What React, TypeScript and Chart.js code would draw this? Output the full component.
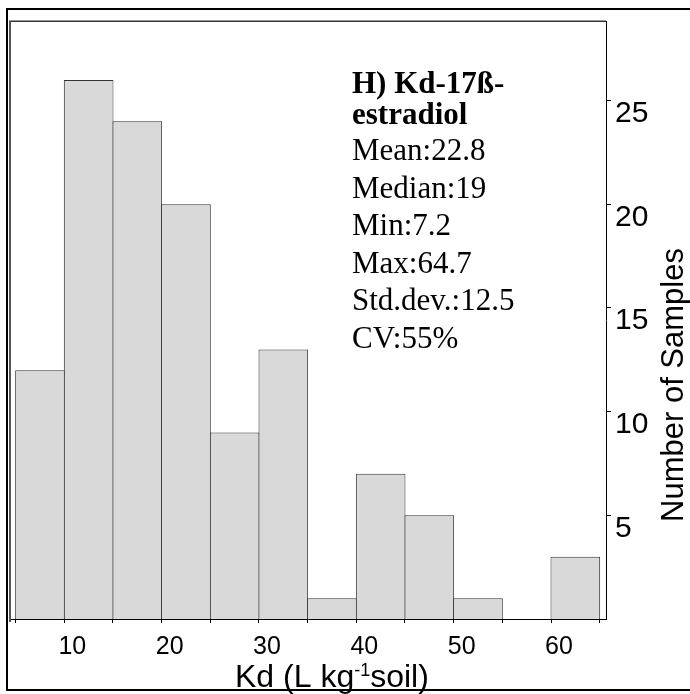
import React, { useEffect, useRef } from 'react';
import { Chart, registerables } from 'chart.js';

Chart.register(...registerables);

// ---- data ----
const binStarts = [5, 10, 15, 20, 25, 30, 35, 40, 45, 50, 55, 60];
const binWidth = 5;
const counts = [12, 26, 24, 20, 9, 13, 1, 7, 5, 1, 0, 3];
const xTickValues = [5, 10, 15, 20, 25, 30, 35, 40, 45, 50, 55, 60, 65];
const xLabelValues = [10, 20, 30, 40, 50, 60];
const yTickValues = [5, 10, 15, 20, 25];
const titleLines = ['H) Kd-17ß-', 'estradiol'];
const statLines = ['Mean:22.8', 'Median:19', 'Min:7.2', 'Max:64.7', 'Std.dev.:12.5', 'CV:55%'];
const xTitleParts = ['Kd (L kg', '-1', 'soil)'];
const yTitle = 'Number of Samples';

const SANS = "'Liberation Sans', Arial, sans-serif";
const SERIF = "'Liberation Serif', 'Times New Roman', serif";

const decorPlugin = {
  id: 'decor',
  afterDraw(chart: any) {
    const ctx = chart.ctx as CanvasRenderingContext2D;
    const { left, top, right, bottom } = chart.chartArea;
    ctx.save();
    // inner frame (top + left)
    ctx.strokeStyle = '#333';
    ctx.lineWidth = 1.5;
    ctx.beginPath();
    ctx.moveTo(left - 1, top + 0.3);
    ctx.lineTo(right, top + 0.3);
    ctx.stroke();
    ctx.strokeStyle = '#555';
    ctx.lineWidth = 2;
    ctx.beginPath();
    ctx.moveTo(left, top);
    ctx.lineTo(left, bottom + 3);
    ctx.stroke();
    // outer frame
    ctx.strokeStyle = '#000';
    ctx.lineWidth = 2;
    ctx.strokeRect(7, 9, 700, 681);

    // stats text
    ctx.fillStyle = '#000';
    ctx.textAlign = 'left';
    ctx.textBaseline = 'alphabetic';
    ctx.font = `bold 31px ${SERIF}`;
    const titleBase = [93, 124];
    titleLines.forEach((t, i) => ctx.fillText(t, 352, titleBase[i]));
    ctx.font = `31px ${SERIF}`;
    statLines.forEach((t, i) => ctx.fillText(t, 352, 160 + i * 37.6));

    // y title
    ctx.save();
    ctx.translate(674, 385);
    ctx.rotate(-Math.PI / 2);
    ctx.font = `31px ${SANS}`;
    ctx.textAlign = 'center';
    ctx.textBaseline = 'middle';
    ctx.fillText(yTitle, 0, 0);
    ctx.restore();

    // x title with superscript
    let x = 235;
    const base = 687;
    ctx.textAlign = 'left';
    ctx.textBaseline = 'alphabetic';
    ctx.font = `32px ${SANS}`;
    ctx.fillText(xTitleParts[0], x, base);
    x += ctx.measureText(xTitleParts[0]).width;
    ctx.font = `18px ${SANS}`;
    ctx.fillText(xTitleParts[1], x, base - 11);
    x += ctx.measureText(xTitleParts[1]).width;
    ctx.font = `32px ${SANS}`;
    ctx.fillText(xTitleParts[2], x, base);
    ctx.restore();
  },
};

export default function App() {
  const ref = useRef<HTMLCanvasElement>(null);
  useEffect(() => {
    if (!ref.current) return;
    const data = binStarts.map((s, i) => ({ x: s + binWidth / 2, y: counts[i] }));
    const chart = new Chart(ref.current, {
      type: 'bar',
      data: {
        datasets: [
          {
            data: data as any,
            backgroundColor: '#d9d9d9',
            borderColor: '#333',
            borderWidth: 1,
            borderSkipped: 'start',
            barPercentage: 1.02,
            categoryPercentage: 1,
          },
        ],
      },
      options: {
        animation: false,
        responsive: false,
        devicePixelRatio: 1,
        layout: { padding: { left: 10, top: 21, right: 0, bottom: 0 } },
        plugins: { legend: { display: false }, tooltip: { enabled: false } },
        scales: {
          x: {
            type: 'linear',
            offset: false,
            min: 4.42,
            max: 65.65,
            afterBuildTicks: (s: any) => {
              s.ticks = xTickValues.map((v) => ({ value: v }));
            },
            afterFit: (s: any) => {
              s.height = 75;
              s.paddingLeft = 0;
              s.paddingRight = 0;
            },
            grid: { display: true, offset: false, drawOnChartArea: false, drawTicks: true, tickLength: 4, color: '#000', lineWidth: 1 },
            border: { display: true, color: '#000', width: 1 },
            ticks: {
              autoSkip: false,
              maxRotation: 0,
              minRotation: 0,
              padding: 9,
              labelOffset: 8,
              color: '#000',
              font: { family: SANS, size: 25 },
              callback: (v: any) => (xLabelValues.includes(Number(v)) ? String(v) : ''),
            },
          },
          y: {
            type: 'linear',
            position: 'right',
            min: 0,
            max: 28.84,
            afterBuildTicks: (s: any) => {
              s.ticks = yTickValues.map((v) => ({ value: v }));
            },
            afterFit: (s: any) => {
              s.width = 84;
              s.paddingTop = 0;
              s.paddingBottom = 0;
            },
            grid: { display: true, drawOnChartArea: false, drawTicks: true, tickLength: 5, color: '#000', lineWidth: 1 },
            border: { display: true, color: '#000', width: 1 },
            ticks: {
              autoSkip: false,
              padding: 4,
              color: '#000',
              font: { family: SANS, size: 30, lineHeight: 0.88 },
              callback: (v: any) => ['', String(v)],
            },
          },
        },
      },
      plugins: [decorPlugin],
    });
    return () => chart.destroy();
  }, []);
  return (
    <div style={{ position: 'absolute', left: 0, top: 0, width: 690, height: 694, background: '#fff' }}>
      <canvas ref={ref} width={690} height={694} style={{ display: 'block' }} />
    </div>
  );
}
